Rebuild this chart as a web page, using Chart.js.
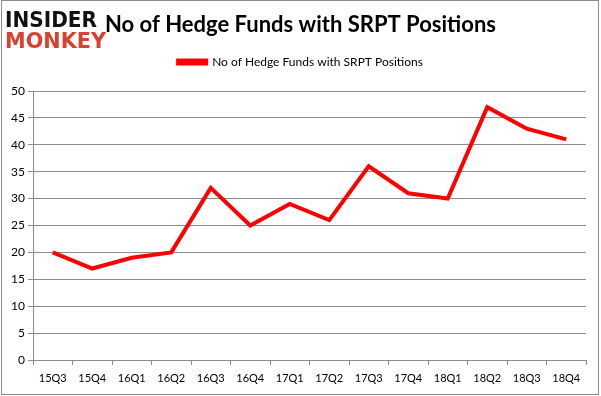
<!DOCTYPE html>
<html>
<head>
<meta charset="utf-8">
<script src="https://cdn.jsdelivr.net/npm/chart.js@4/dist/chart.umd.min.js"></script>
<style>
  html, body { margin: 0; padding: 0; background: #fff; }
  #wrap { width: 601px; height: 396px; position: relative; }
</style>
</head>
<body>
<div id="wrap"><canvas id="chart"></canvas></div>
<script>
// chart data
const quarters = ["15Q3", "15Q4", "16Q1", "16Q2", "16Q3", "16Q4", "17Q1", "17Q2", "17Q3", "17Q4", "18Q1", "18Q2", "18Q3", "18Q4"];
const fundCounts = [20, 17, 19, 20, 32, 25, 29, 26, 36, 31, 30, 47, 43, 41];
const seriesName = "No of Hedge Funds with SRPT Positions";
const chartTitle = "No of Hedge Funds with SRPT Positions";

const fontFamily = "Lato, 'Open Sans', sans-serif";

// frame around the picture + logo
const framePlugin = {
    id: "frameAndLogo",
    beforeDraw(chart) {
        const ctx = chart.ctx;
        ctx.save();
        ctx.fillStyle = "#fff";
        ctx.fillRect(0, 0, chart.width, chart.height);
        ctx.strokeStyle = "#8c8c8c";
        ctx.lineWidth = 1;
        ctx.strokeRect(1.5, 0.5, 597, 394);
        ctx.restore();
    },
    afterDraw(chart) {
        const ctx = chart.ctx;
        ctx.save();
        ctx.textBaseline = "alphabetic";
        ctx.textAlign = "left";
        ctx.font = "900 21px 'DejaVu Sans', sans-serif";
        ctx.fillStyle = "#111";
        ctx.fillText("INSIDER", 5, 27, 92);
        ctx.fillStyle = "#d7412e";
        ctx.fillText("MONKEY", 5, 48, 101);
        ctx.restore();
    }
};

new Chart(document.getElementById("chart"), {
    type: "line",
    data: {
        labels: quarters,
        datasets: [{
            label: seriesName,
            data: fundCounts,
            borderColor: "#ff0000",
            backgroundColor: "#ff0000",
            borderWidth: 4,
            pointRadius: 0,
            tension: 0,
            fill: false
        }]
    },
    options: {
        responsive: true,
        maintainAspectRatio: false,
        animation: false,
        layout: {
            padding: 0
        },
        scales: {
            x: {
                offset: true,
                grid: {
                    offset: true,
                    drawOnChartArea: false,
                    drawTicks: true,
                    tickLength: 5,
                    color: "#8c8c8c"
                },
                border: { color: "#8c8c8c" },
                ticks: {
                    color: "#000",
                    font: { family: fontFamily, size: 11 },
                    maxRotation: 0,
                    autoSkip: false,
                    padding: 7
                },
                afterFit(axis) { axis.height = 36; }
            },
            y: {
                min: 0,
                max: 50,
                grid: {
                    color: "#8c8c8c",
                    tickLength: 5
                },
                border: { color: "#8c8c8c" },
                ticks: {
                    stepSize: 5,
                    color: "#000",
                    font: { family: fontFamily, size: 12 },
                    padding: 3
                },
                afterFit(axis) { axis.width = 33; }
            },
            // invisible right axis, only keeps the right margin so the title stays centred
            yRight: {
                position: "right",
                min: 0,
                max: 50,
                grid: { display: false },
                border: { display: false },
                ticks: { display: false },
                afterFit(axis) { axis.width = 15; }
            }
        },
        plugins: {
            title: {
                display: true,
                text: chartTitle,
                color: "#000",
                font: { family: fontFamily, size: 22, weight: "bold", lineHeight: 1 },
                padding: { top: 14, bottom: 0 }
            },
            // empty spacer between legend and plot area
            subtitle: {
                display: true,
                text: "",
                weight: 500,
                font: { size: 1, lineHeight: 1 },
                padding: { top: 12, bottom: 0 }
            },
            legend: {
                display: true,
                labels: {
                    color: "#000",
                    font: { family: fontFamily, size: 12 },
                    boxWidth: 28,
                    boxHeight: 3,
                    padding: 20
                }
            },
            tooltip: { enabled: false }
        }
    },
    plugins: [framePlugin]
});
</script>
</body>
</html>
